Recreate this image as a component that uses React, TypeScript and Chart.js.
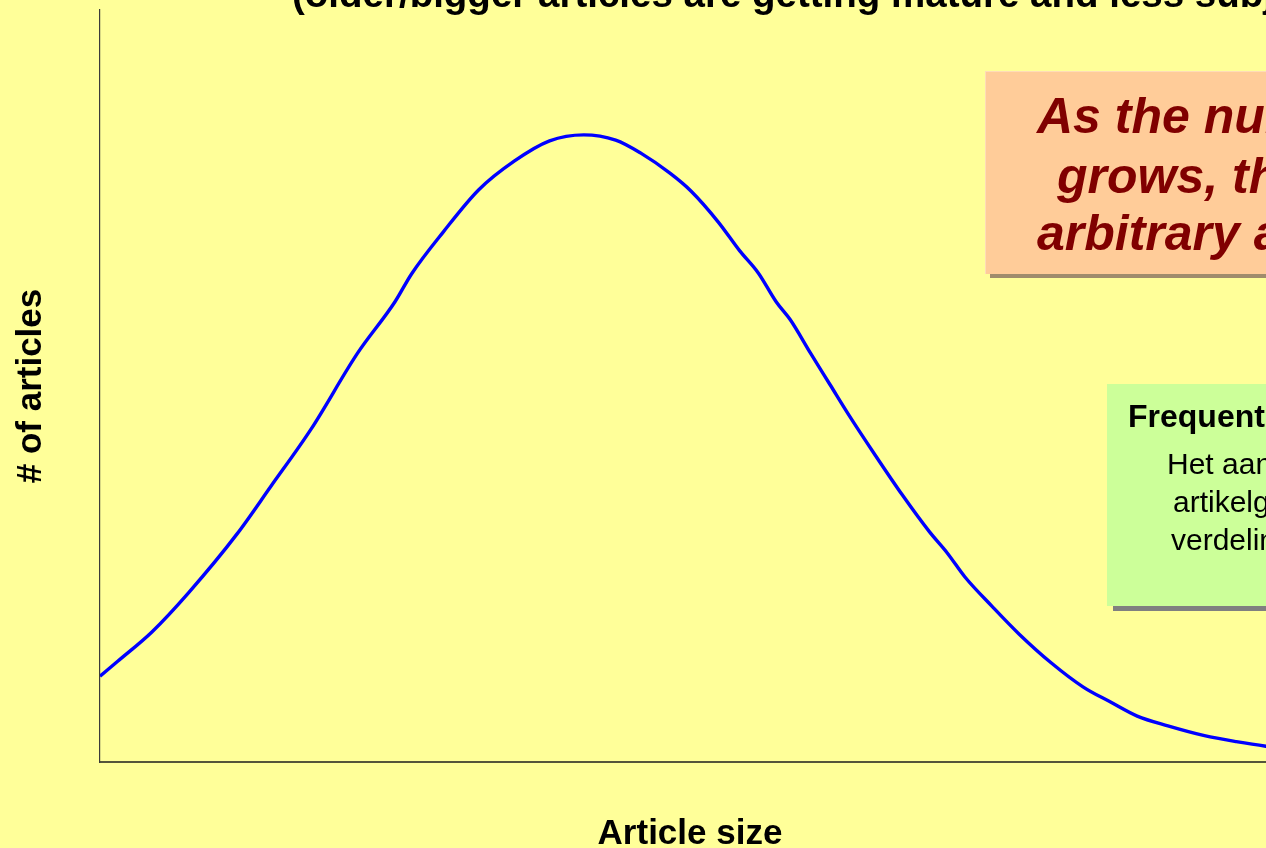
import React, { useEffect, useRef } from "react";
import { Chart, registerables } from "chart.js";

Chart.register(...registerables);

// Article size (relative units along the x axis)
const sizeValues = [
  0, 1.5, 4.4, 7.5, 11.6, 14.5, 17.9, 21.8, 25.0, 26.4,
  29.1, 32.1, 35.1, 38.1, 41.0, 43.7, 45.8, 48.3, 50.1, 52.4,
  54.2, 55.8, 57.3, 58.5, 60.2, 61.9, 63.4, 65.7, 68.0, 70.3,
  71.8, 73.3, 75.6, 77.9, 80.6, 83.3, 85.6, 87.9, 90.5, 93.6,
  96.3, 98.8, 100,
];
// Number of articles (relative units)
const articleCounts = [
  11.4, 13.4, 17.3, 22.5, 30.3, 36.7, 44.3, 54.3, 61.2, 64.9,
  70.5, 76.1, 79.9, 82.6, 83.4, 82.7, 81.0, 78.3, 75.9, 71.8,
  68.0, 65.0, 61.2, 58.8, 54.4, 50.1, 46.3, 40.8, 35.5, 30.6,
  27.8, 24.6, 20.7, 17.0, 13.2, 10.0, 8.0, 6.1, 4.8, 3.5,
  2.7, 2.1, 1.9,
];

const xTitle = "Article size";
const yTitle = "# of articles";
const chartTitle = "(older/bigger articles are getting mature and less subject to change)";
const noteLines = ["As the number of articles", "grows, the distribution of", "arbitrary articles is normal"];
const noteHeading = "Frequentieverdeling";
const noteBody = ["Het aantal artikelen per", "artikelgrootte volgt een", "verdeling"];

const FONT = "'Liberation Sans', Arial, Helvetica, sans-serif";
const CANVAS_W = 1400;
const CANVAS_H = 900;
const CANVAS_TOP = -40;

export default function App() {
  const ref = useRef<HTMLCanvasElement | null>(null);

  useEffect(() => {
    if (!ref.current) return;
    const points = sizeValues.map((x, i) => ({ x, y: articleCounts[i] }));
    const chart = new Chart(ref.current, {
      type: "line",
      data: {
        datasets: [
          {
            label: yTitle,
            data: points,
            borderColor: "#0000ff",
            borderWidth: 3.4,
            pointRadius: 0,
            fill: false,
            cubicInterpolationMode: "monotone",
          },
        ],
      },
      options: {
        animation: false,
        responsive: false,
        maintainAspectRatio: false,
        layout: { padding: { left: 0, right: CANVAS_W - 1280, top: 50, bottom: 5 } },
        plugins: {
          legend: { display: false },
          tooltip: { enabled: false },
          title: { display: false },
        },
        scales: {
          x: {
            type: "linear",
            min: 0,
            max: 100,
            grid: { display: false },
            ticks: { display: false },
            border: { display: true, color: "#55553a", width: 2 },
            title: {
              display: true,
              text: xTitle,
              color: "#000",
              font: { family: FONT, size: 35, weight: "bold" },
              padding: { top: 0, bottom: 0 },
            },
            afterFit: (s: any) => {
              s.height = 93;
            },
          },
          y: {
            type: "linear",
            min: 0,
            max: 100,
            grid: { display: false },
            ticks: { display: false },
            border: { display: true, color: "#3a3a3a", width: 1.2 },
            title: {
              display: true,
              text: yTitle,
              color: "#000",
              font: { family: FONT, size: 35, weight: "bold" },
              padding: { top: 10, bottom: 0 },
            },
            afterFit: (s: any) => {
              s.width = 100;
            },
          },
        },
      },
    });
    return () => chart.destroy();
  }, []);

  const abs = (extra: React.CSSProperties): React.CSSProperties => ({
    position: "absolute",
    whiteSpace: "nowrap",
    margin: 0,
    ...extra,
  });

  // positions: top = baseline - 0.8465 * fontSize (line-height 1)
  return (
    <div
      style={{
        position: "fixed",
        left: 0,
        top: 0,
        width: 1266,
        height: 848,
        overflow: "hidden",
        background: "#ffff99",
        fontFamily: FONT,
      }}
    >
      <canvas
        ref={ref}
        width={CANVAS_W}
        height={CANVAS_H}
        style={{ position: "absolute", left: 0, top: CANVAS_TOP, width: CANVAS_W, height: CANVAS_H }}
      />
      <div
        style={abs({
          left: 292,
          top: 8 - 0.8465 * 38.5,
          fontSize: 38.5,
          lineHeight: "38.5px",
          fontWeight: "bold",
          color: "#000",
        })}
      >
        {chartTitle}
      </div>

      {/* orange note box */}
      <div
        style={abs({
          left: 985,
          top: 71,
          width: 500,
          height: 202,
          background: "#ffcc99",
          borderLeft: "1px solid #ffdcb8",
          borderTop: "1px solid #ffdcb8",
          boxShadow: "5px 4px 0 #a08c6c",
        })}
      />
      {noteLines.map((t, i) => (
        <div
          key={t}
          style={abs({
            left: [1037, 1057, 1037][i],
            top: [133, 193, 250][i] - 0.8465 * 50,
            fontSize: 50,
            lineHeight: "50px",
            fontWeight: "bold",
            fontStyle: "italic",
            color: "#800000",
          })}
        >
          {t}
        </div>
      ))}

      {/* green note box */}
      <div
        style={abs({
          left: 1107,
          top: 384,
          width: 400,
          height: 222,
          background: "#ccff99",
          boxShadow: "6px 5px 0 #808080",
        })}
      />
      <div
        style={abs({
          left: 1128,
          top: 427 - 0.8465 * 32,
          fontSize: 32,
          lineHeight: "32px",
          fontWeight: "bold",
          color: "#000",
        })}
      >
        {noteHeading}
      </div>
      {noteBody.map((t, i) => (
        <div
          key={t}
          style={abs({
            left: [1167, 1173, 1171][i],
            top: [474, 512, 550][i] - 0.8465 * 30,
            fontSize: 30,
            lineHeight: "30px",
            color: "#000",
          })}
        >
          {t}
        </div>
      ))}
    </div>
  );
}
